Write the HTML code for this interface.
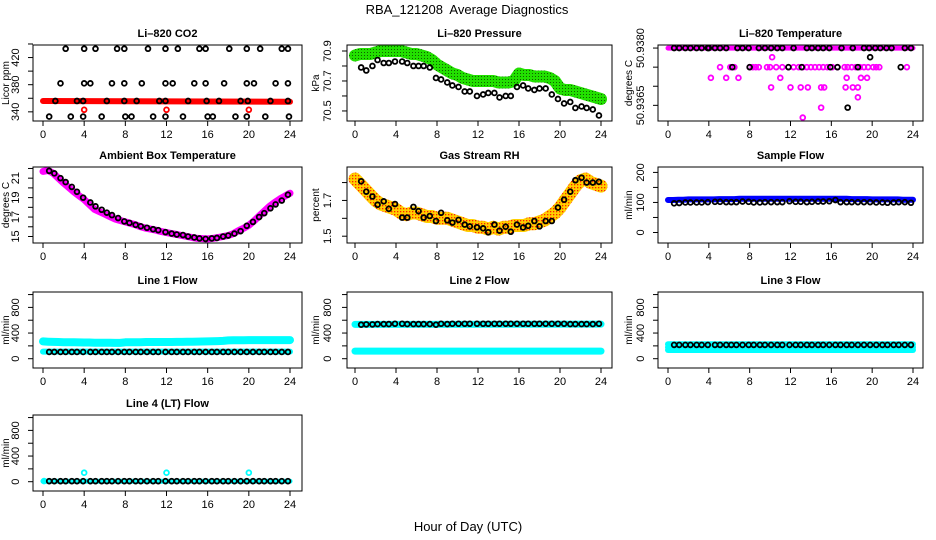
<!DOCTYPE html>
<html><head><meta charset="utf-8"><style>
body{margin:0;background:#fff;}
svg{display:block;font-family:"Liberation Sans",sans-serif;}
</style></head><body>
<svg id="chart" width="936" height="540" viewBox="0 0 936 540">
<defs>
<pattern id="rhpat" width="3" height="3" patternUnits="userSpaceOnUse"><rect width="3" height="3" fill="#ffd000"/><rect x="1" y="1" width="1.3" height="1.3" fill="#ff2000"/></pattern>
<pattern id="grpat" width="3" height="3" patternUnits="userSpaceOnUse"><rect width="3" height="3" fill="#22e000"/><rect x="1" y="1" width="1" height="1" fill="#106000"/></pattern>
</defs>
<text x="467" y="14" text-anchor="middle" font-size="13" style="white-space:pre" xml:space="preserve">RBA_121208  Average Diagnostics</text>
<text x="468" y="531" text-anchor="middle" font-size="13">Hour of Day (UTC)</text>
</svg>
<script>
// ---- shared time grid (hours) ----
const hrs = [0,0.5,1,1.5,2,2.5,3,3.5,4,4.5,5,5.5,6,6.5,7,7.5,8,8.5,9,9.5,10,10.5,11,11.5,12,12.5,13,13.5,14,14.5,15,15.5,16,16.5,17,17.5,18,18.5,19,19.5,20,20.5,21,21.5,22,22.5,23,23.5,24];
const ptHrs = [0.6,1.1,1.7,2.2,2.8,3.3,3.9,4.6,5.1,5.7,6.2,6.7,7.3,7.9,8.4,9.0,9.5,10.1,10.7,11.2,11.9,12.5,13.0,13.6,14.1,14.7,15.2,15.8,16.4,16.9,17.5,18.0,18.6,19.2,19.8,20.4,21.0,21.5,22.1,22.6,23.2,23.8];
const xTicks = [0,4,8,12,16,20,24];

// ---- CO2 ----
const co2RedX = [0,24];
const co2Red = [356,355];
const co2OutX = [4,12,20];
const co2Out = [343,343,343];
const co2BlackX = [2.2,4.0,5.1,7.2,7.9,10.2,11.9,13.1,15.2,15.8,18.1,19.8,21.1,23.2,23.8,
 1.7,4.0,4.6,6.7,7.9,9.6,11.9,12.6,14.7,15.8,17.6,19.8,20.5,22.6,23.8,
 1.2,3.3,3.9,6.2,7.9,9.1,11.3,11.9,14.1,15.9,17.1,19.2,19.9,22.1,23.8,
 0.6,2.7,3.9,5.7,8.0,8.6,10.7,11.9,13.6,16.0,16.5,18.7,19.8,21.6,23.9];
const co2Black = [433,433,433,433,433,433,433,433,433,433,433,433,433,433,433,
 382,382,382,382,382,382,382,382,382,382,382,382,382,382,382,
 356,356,356,356,356,356,356,356,356,356,356,356,356,356,356,
 333,333,333,333,333,333,333,333,333,333,333,333,333,333,333];

// ---- Pressure ----
const presBand = [70.87,70.88,70.88,70.88,70.89,70.9,70.9,70.9,70.9,70.9,70.89,70.88,70.88,70.87,70.86,70.84,70.81,70.79,70.77,70.75,70.74,70.72,70.71,70.7,70.7,70.7,70.7,70.7,70.69,70.69,70.69,70.7,70.75,70.74,70.74,70.73,70.73,70.73,70.72,70.7,70.65,70.64,70.64,70.63,70.62,70.61,70.6,70.59,70.58];
const presPt = [70.79,70.77,70.8,70.84,70.82,70.82,70.83,70.83,70.82,70.8,70.8,70.8,70.79,70.72,70.71,70.69,70.67,70.66,70.63,70.63,70.6,70.61,70.62,70.62,70.59,70.6,70.6,70.66,70.67,70.65,70.64,70.65,70.65,70.61,70.58,70.55,70.56,70.52,70.53,70.52,70.51,70.47];

// ---- Li-820 temperature ----
const tmpTopX = [0,24];
const tmpTop = [50.9380,50.9380];
const tmpMagX = [5.1,6.1,6.5,8.0,8.3,8.6,8.9,9.7,10.0,10.6,11.2,11.8,12.3,12.8,13.2,13.6,14.0,14.4,14.8,15.2,15.6,16.1,16.6,17.3,17.6,18.0,18.4,18.8,19.2,19.6,20.1,20.4,20.7,23.4,
 4.2,5.7,6.9,11.0,17.5,18.9,19.5, 10.1,12.0,13.0,13.7,15.0,15.3,17.4,18.1,18.6, 18.6,15.0,13.2,10.2];
const tmpMag = [50.9375,50.9375,50.9375,50.9375,50.9375,50.9375,50.9375,50.9375,50.9375,50.9375,50.9375,50.9375,50.9375,50.9375,50.9375,50.9375,50.9375,50.9375,50.9375,50.9375,50.9375,50.9375,50.9375,50.9375,50.9375,50.9375,50.9375,50.9375,50.9375,50.9375,50.9375,50.9375,50.9375,50.9375,
 50.93722,50.93722,50.93722,50.93722,50.93722,50.93722,50.93722, 50.93697,50.93697,50.93697,50.93697,50.93697,50.93697,50.93697,50.93697,50.93697, 50.93671,50.93644,50.93618,50.93776];
const tmpBlkX = [0.6,1.1,1.7,2.2,2.8,3.3,3.9,4.0,4.6,5.1,5.7,6.8,7.3,7.9,8.9,9.5,10.1,10.7,11.2,12.3,13.6,14.1,14.7,15.2,15.8,17.0,18.1,19.2,19.7,20.3,20.8,21.4,21.9,23.2,23.8,
 6.3,8.0,11.8,13.1,15.9,16.6,18.6,22.8, 17.6,19.8];
const tmpBlk = [50.9380,50.9380,50.9380,50.9380,50.9380,50.9380,50.9380,50.9380,50.9380,50.9380,50.9380,50.9380,50.9380,50.9380,50.9380,50.9380,50.9380,50.9380,50.9380,50.9380,50.9380,50.9380,50.9380,50.9380,50.9380,50.9380,50.9380,50.9380,50.9380,50.9380,50.9380,50.9380,50.9380,50.9380,50.9380,
 50.9375,50.9375,50.9375,50.9375,50.9375,50.9375,50.9375,50.9375, 50.93644,50.93776];

// ---- Ambient box temperature ----
const ambBand = [21.7,21.8,21.5,21.0,20.5,20.05,19.6,19.2,18.8,18.3,17.8,17.55,17.3,17.05,16.8,16.65,16.5,16.35,16.2,16.0,15.85,15.75,15.65,15.5,15.4,15.3,15.2,15.1,15.0,14.9,14.8,14.78,14.75,14.8,14.9,15.0,15.1,15.3,15.6,15.85,16.15,16.6,17.1,17.6,18.1,18.5,18.85,19.15,19.45];
const ambPt = [21.75,21.5,21.0,20.6,20.1,19.6,19.0,18.5,18.1,17.75,17.45,17.2,16.9,16.55,16.4,16.2,16.05,15.9,15.75,15.65,15.45,15.3,15.2,15.15,15.0,14.9,14.8,14.75,14.8,14.85,15.0,15.1,15.3,15.55,16.1,16.5,17.0,17.4,17.9,18.3,18.7,19.3];

// ---- Gas stream RH ----
const rhBand = [1.82,1.79,1.76,1.73,1.70,1.68,1.67,1.66,1.65,1.63,1.62,1.63,1.63,1.62,1.61,1.61,1.60,1.60,1.60,1.59,1.58,1.57,1.56,1.56,1.55,1.55,1.54,1.55,1.54,1.55,1.55,1.56,1.56,1.56,1.57,1.57,1.58,1.59,1.61,1.63,1.66,1.70,1.74,1.78,1.81,1.82,1.80,1.79,1.78];
const rhPt = [1.807,1.749,1.722,1.676,1.695,1.653,1.68,1.604,1.604,1.664,1.64,1.604,1.613,1.585,1.631,1.589,1.576,1.591,1.565,1.555,1.55,1.544,1.522,1.565,1.531,1.553,1.525,1.565,1.549,1.558,1.585,1.555,1.585,1.585,1.66,1.704,1.749,1.813,1.827,1.80,1.80,1.804];

// ---- Sample flow ----
const sfBand = [108,108,109,109,110,110,110,110,110,110,111,111,111,111,112,112,112,112,112,112,112,112,112,112,112,112,112,112,112,112,112,112,112,112,112,112,111,111,111,111,110,110,110,110,110,110,109,109,109];
const sfPt = [97,98,100,100,100,100,101,102,102,101,101,101,103,102,100,100,101,101,101,101,104,102,102,101,102,103,103,104,108,101,101,101,101,101,101,100,100,99,100,101,101,99];

// ---- Line flows ----
const l1Hi = [270,265,262,260,258,256,255,254,252,252,250,250,248,248,246,246,255,256,258,258,260,260,260,260,260,260,262,262,264,265,266,268,270,272,275,278,285,287,288,288,290,290,290,290,290,290,290,290,290];
const l1Lo = [110,110];
const l1LoX = [0,24];
const l1Pt = [105,105];
const l2Hi = [535,540];
const l2HiX = [0,24];
const l2Lo = [118,118];
const l2LoX = [0,24];
const l2Pt = [530,535,535,540,540,540,545,545,540,540,540,540,540,530,545,540,545,545,545,545,545,545,545,545,545,545,545,545,545,545,545,545,545,545,545,545,540,540,540,540,540,545];
const l3Hi = [225,225];
const l3HiX = [0,24];
const l3Lo = [135,135];
const l3LoX = [0,24];
const l3Pt = [215,215];
const l4Band = [8,8];
const l4BandX = [0,24];
const l4OutX = [0.1,4,12,20];
const l4Out = [10,140,140,140];
const l4Pt = [8,8];

const NS = 'http://www.w3.org/2000/svg';
const svg = document.getElementById('chart');
function mk(tag, attrs, parent){ const e=document.createElementNS(NS,tag); for(const k in attrs) e.setAttribute(k,attrs[k]); (parent||svg).appendChild(e); return e; }

const cols = [{bl:33,br:302,x0:43,x24:290,ylab:19,ytit:9},
              {bl:347,br:612,x0:355,x24:601,ylab:331,ytit:319},
              {bl:658,br:923,x0:668,x24:913,ylab:644,ytit:632}];
const rows = [45,167,292,415];
const BH = 76;

function panel(name, title, ytitle, c, r, ymin, ymax, ticks, labels){
  const col = cols[c], top = rows[r], bot = top+BH;
  const g = mk('g',{});
  
  
  const sx = v => col.x0 + (v/24)*(col.x24-col.x0);
  const sy = v => bot - (v-ymin)/(ymax-ymin)*BH;
  const t = mk('text',{x:(col.bl+col.br)/2, y:top-8, 'text-anchor':'middle','font-size':'11','font-weight':'bold'}, g);
  t.textContent = title;
  
  
  const yt = mk('text',{x:col.ytit, y:(top+bot)/2, 'text-anchor':'middle','font-size':'10', transform:`rotate(-90 ${col.ytit} ${(top+bot)/2})`}, g);
  yt.textContent = ytitle;
  
  
  const plot = mk('g',{}, g);
  
  
  const xa = mk('g',{}, g);
  
  
  xTicks.forEach(v=>{
    mk('line',{x1:sx(v),x2:sx(v),y1:bot,y2:bot+5,stroke:'#000','stroke-width':1},xa);
    const l = mk('text',{x:sx(v),y:bot+17,'text-anchor':'middle','font-size':'11'},xa);
    l.textContent = v;
    
    
  });
  const ya = mk('g',{}, g);
  
  
  ticks.forEach(v=>{
    mk('line',{x1:col.bl-5,x2:col.bl,y1:sy(v),y2:sy(v),stroke:'#000','stroke-width':1},ya);
  });
  labels.forEach(v=>{
    const y = sy(parseFloat(v));
    const l = mk('text',{x:col.ylab,y:y,'text-anchor':'middle','font-size':'11',transform:`rotate(-90 ${col.ylab} ${y})`},ya);
    l.textContent = v;
    
    
  });
  const frame = mk('rect',{x:col.bl,y:top,width:col.br-col.bl,height:BH,fill:'none',stroke:'#000','stroke-width':1}, g);
  
  
  return {plot, sx, sy};
}
function band(p, xs, ys, color, w, name){
  const pts = xs.map((x,i)=>p.sx(x).toFixed(1)+','+p.sy(ys[i]).toFixed(1)).join(' ');
  const l = mk('polyline',{points:pts,fill:'none',stroke:color,'stroke-width':w,'stroke-linejoin':'round','stroke-linecap':'round'},p.plot);
  
  
}
function pts(p, xs, ys, color, name){
  xs.forEach((x,i)=>{
    const c = mk('circle',{cx:p.sx(x),cy:p.sy(ys[i]),r:2.4,fill:'none',stroke:color,'stroke-width':1.8},p.plot);
    
    
  });
}

let p = panel('co2-panel','Li\u2013820 CO2','Licor ppm',0,0,326.5,438.5,[340,360,380,400,420,440],['340','380','420']);
band(p, co2RedX, co2Red, '#ff0000', 6, 'co2-red-band');
pts(p, co2OutX, co2Out, '#ff0000', 'co2-red-point');
pts(p, co2BlackX, co2Black, '#000', 'co2-avg-point');

p = panel('pressure-panel','Li\u2013820 Pressure','kPa',1,0,70.433,70.94,[70.5,70.6,70.7,70.8,70.9],['70.5','70.7','70.9']);
band(p, hrs, presBand, 'url(#grpat)', 12, 'pressure-band');
pts(p, ptHrs, presPt, '#000', 'pressure-avg-point');

p = panel('licor-temp-panel','Li\u2013820 Temperature','degrees C',2,0,50.93609,50.93808,[50.9380,50.9375,50.9370,50.9365],['50.9380','50.9365']);
band(p, tmpTopX, tmpTop, '#ff00ff', 5, 'temp-magenta-band');
pts(p, tmpMagX, tmpMag, '#ff00ff', 'temp-magenta-point');
pts(p, tmpBlkX, tmpBlk, '#000', 'temp-avg-point');

p = panel('ambient-temp-panel','Ambient Box Temperature','degrees C',0,1,14.33,22.15,[15,16,17,18,19,20,21,22],['15','17','19','21']);
band(p, hrs, ambBand, '#ff00ff', 7, 'ambient-band');
pts(p, ptHrs, ambPt, '#000', 'ambient-avg-point');

p = panel('rh-panel','Gas Stream RH','percent',1,1,1.462,1.887,[1.5,1.6,1.7,1.8],['1.5','1.7']);
band(p, hrs, rhBand, 'url(#rhpat)', 13, 'rh-band');
pts(p, ptHrs, rhPt, '#000', 'rh-avg-point');

p = panel('sample-flow-panel','Sample Flow','ml/min',2,1,-35,218,[0,50,100,150,200],['0','100','200']);
band(p, hrs, sfBand, '#0000ff', 6, 'sample-flow-band');
pts(p, ptHrs, sfPt, '#000', 'sample-flow-point');

const fT = [0,200,400,600,800,1000], fL = ['0','400','800'];
p = panel('line1-panel','Line 1 Flow','ml/min',0,2,-145,1040,fT,fL);
band(p, hrs, l1Hi, '#00ffff', 8, 'line1-high-band');
band(p, l1LoX, l1Lo, '#00ffff', 6, 'line1-low-band');
pts(p, ptHrs, ptHrs.map(()=>l1Pt[0]), '#000', 'line1-point');

p = panel('line2-panel','Line 2 Flow','ml/min',1,2,-145,1040,fT,fL);
band(p, l2HiX, l2Hi, '#00ffff', 7, 'line2-high-band');
band(p, l2LoX, l2Lo, '#00ffff', 7, 'line2-low-band');
pts(p, ptHrs, l2Pt, '#000', 'line2-point');

p = panel('line3-panel','Line 3 Flow','ml/min',2,2,-145,1040,fT,fL);
band(p, l3HiX, l3Hi, '#00ffff', 6, 'line3-high-band');
band(p, l3LoX, l3Lo, '#00ffff', 6, 'line3-low-band');
band(p, [0,24], [180,180], '#00ffff', 6, 'line3-mid-band');
pts(p, ptHrs, ptHrs.map(()=>l3Pt[0]), '#000', 'line3-point');

p = panel('line4-panel','Line 4 (LT) Flow','ml/min',0,3,-145,1040,fT,fL);
band(p, l4BandX, l4Band, '#00ffff', 5, 'line4-band');
pts(p, l4OutX, l4Out, '#00ffff', 'line4-outlier');
pts(p, ptHrs, ptHrs.map(()=>l4Pt[0]), '#000', 'line4-point');
</script>
</body></html>
